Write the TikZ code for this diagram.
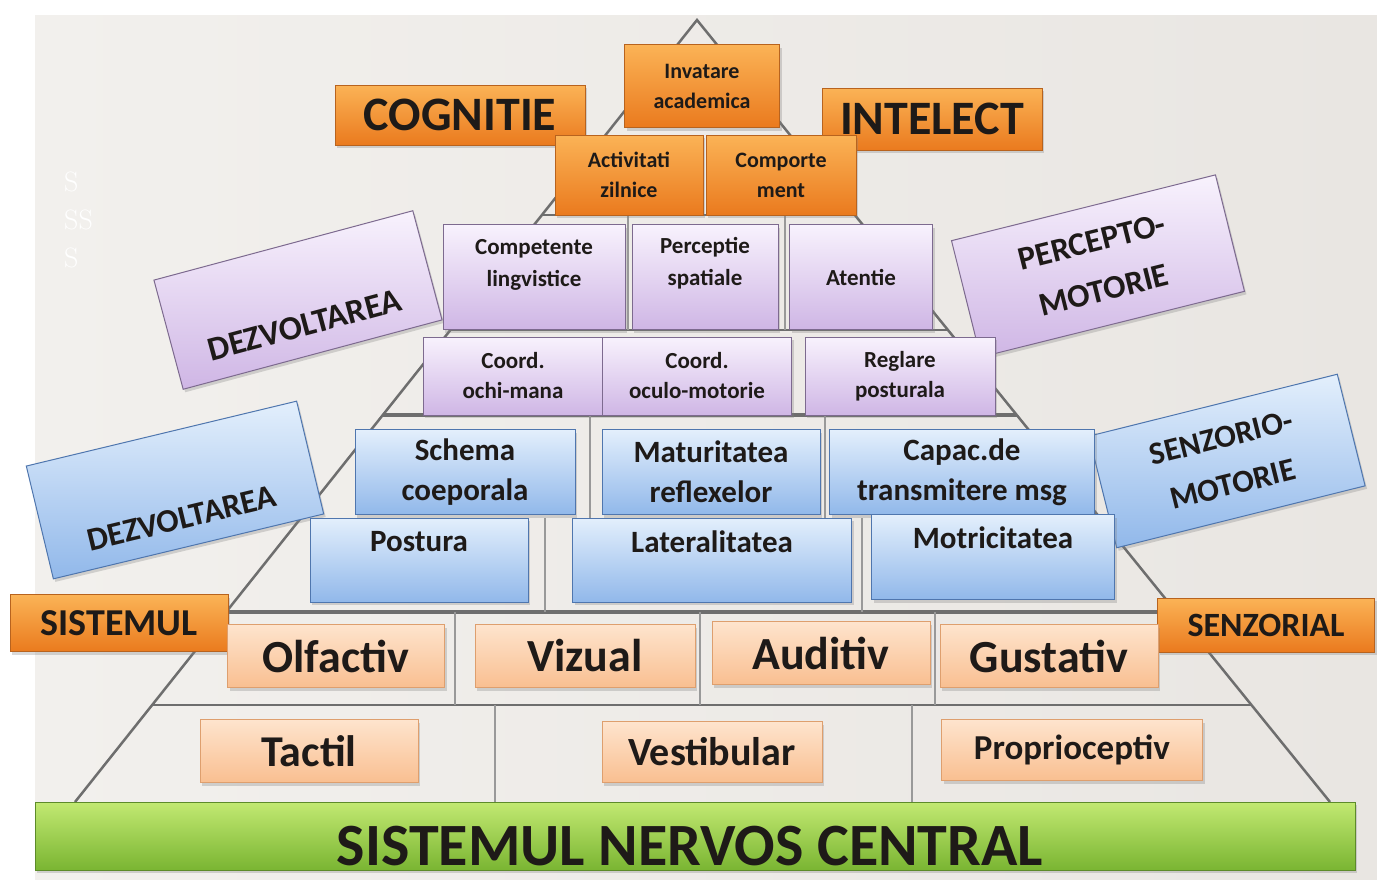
\documentclass[tikz,border=0pt]{standalone}
\usepackage{fontspec}
\newfontfamily\carlito{Carlito}
\usetikzlibrary{positioning,calc,shadows}

\definecolor{paneltop}{HTML}{F2F0ED}
\definecolor{panelbot}{HTML}{E9E6E2}
\definecolor{orangetop}{HTML}{FBB356}
\definecolor{orangebot}{HTML}{EA7A1E}
\definecolor{orangeedge}{HTML}{B8631E}
\definecolor{lilactop}{HTML}{F8F2FD}
\definecolor{lilacbot}{HTML}{CFB6E5}
\definecolor{lilacedge}{HTML}{7D6A8F}
\definecolor{bluetop}{HTML}{E3EFFC}
\definecolor{bluebot}{HTML}{91B8EA}
\definecolor{blueedge}{HTML}{4F76AE}
\definecolor{peachtop}{HTML}{FEE4CD}
\definecolor{peachbot}{HTML}{F9BF91}
\definecolor{peachedge}{HTML}{DE9F6E}
\definecolor{greentop}{HTML}{C2E972}
\definecolor{greenbot}{HTML}{7AB532}
\definecolor{greenedge}{HTML}{5D8B2A}
\definecolor{ink}{HTML}{1E1A18}
\definecolor{pyrline}{HTML}{6E6E6E}

\begin{document}
\begin{tikzpicture}[x=1pt, y=-1pt,
    wh/.style 2 args={minimum width=#1, minimum height=#2},
    txt/.style 2 args={font=\carlito\bfseries\fontsize{#1}{#2}\selectfont},
    box/.style={draw, line width=1pt, inner sep=2pt, align=center, text=ink,
        drop shadow={opacity=0.3, shadow xshift=2pt, shadow yshift=-3pt}},
    orangebox/.style={box, draw=orangeedge, top color=orangetop, bottom color=orangebot},
    lilacbox/.style={box, draw=lilacedge, top color=lilactop, bottom color=lilacbot},
    bluebox/.style={box, draw=blueedge, top color=bluetop, bottom color=bluebot},
    peachbox/.style={box, draw=peachedge, top color=peachtop, bottom color=peachbot},
    greenbox/.style={box, draw=greenedge, top color=greentop, bottom color=greenbot},
    label text/.style={inner sep=1pt, align=center, text=ink},
    tierline/.style={draw=pyrline, line width=#1},
    divider/.style={draw=pyrline!70, line width=2pt}
]
    \useasboundingbox (0,0) rectangle (1377,879);

    % background panel
    \shade[left color=paneltop, right color=panelbot] (35,15) rectangle (1377,879);
    \node[text=white, font=\fontsize{28}{38}\selectfont, align=left, anchor=north west,
        inner sep=0pt] (marks) at (64,172) {S\\SS\\S};

    % pyramid
    \coordinate (apex) at (697,20);
    \coordinate (baseL) at (75,802);
    \coordinate (baseR) at (1330,802);
    \draw[tierline=2.5pt] (baseL) -- (apex) -- (baseR);
    \foreach \t/\w in {0.249/2pt, 0.396/2pt, 0.505/4pt, 0.757/4pt, 0.876/2.5pt}
        \draw[tierline=\w] ($(apex)!\t!(baseL)$) -- ($(apex)!\t!(baseR)$);
    \foreach \x/\ya/\yb in {455/612/705, 700/612/705, 935/612/705, 495/705/802, 912/705/802,
            590/415/518, 825/415/518, 545/518/612, 862/518/612, 628/215/330, 785/215/330}
        \draw[divider] (\x,\ya) -- (\x,\yb);

    % tilted labels
    \node[lilacbox, wh={268}{113}, rotate=15] (dezpurple) at (298,300) {};
    \node[label text, txt={34}{40}, rotate=15] (dezpurpletext)
        at ($(dezpurple.center)!0.45!(dezpurple.south)$) {DEZVOLTAREA};
    \node[lilacbox, wh={272}{120}, rotate=14, txt={33}{50}] (percepto) at (1098,266)
        {PERCEPTO-\\MOTORIE};
    \node[bluebox, wh={278}{116}, rotate=13.5] (dezblue) at (175,490) {};
    \node[label text, txt={33}{40}, rotate=13.5] (dezbluetext)
        at ($(dezblue.center)!0.5!(dezblue.south)$) {DEZVOLTAREA};
    \node[bluebox, wh={256}{115}, rotate=14, txt={32}{48}] (senzorio) at (1227,461)
        {SENZORIO-\\MOTORIE};

    % top tier
    \node[orangebox, wh={155}{83}, txt={22}{30}] (invatare) at (702,86) {Invatare\\academica};
    \node[orangebox, wh={250}{60}, txt={48}{50}] (cognitie) at (460,115) {COGNITIE};
    \node[orangebox, wh={220}{62}, txt={48}{50}] (intelect) at (932,119) {INTELECT};
    \node[orangebox, wh={148}{80}, txt={22}{30}] (activitati) at (629,175) {Activitati\\zilnice};
    \node[orangebox, wh={150}{80}, txt={22}{30}, right=2pt of activitati] (comportament)
        {Comporte\\ment};

    % perceptual-motor tier
    \node[lilacbox, wh={182}{105}] (competente) at (534,277) {};
    \node[label text, txt={23}{32}, below=14pt of competente.north] (competentetext)
        {Competente\\lingvistice};
    \node[lilacbox, wh={146}{105}] (perceptie) at (705,277) {};
    \node[label text, txt={23}{32}, below=12pt of perceptie.north] (perceptietext)
        {Perceptie\\spatiale};
    \node[lilacbox, wh={143}{105}, txt={23}{32}] (atentie) at (861,277) {Atentie};
    \node[lilacbox, wh={180}{78}, txt={23}{30}] (ochimana) at (513,376) {Coord.\\ochi-mana};
    \node[lilacbox, wh={189}{78}, txt={23}{30}] (oculomotorie) at (697,376) {Coord.\\oculo-motorie};
    \node[lilacbox, wh={190}{78}, txt={23}{30}] (reglare) at (900,376) {Reglare\\posturala};

    % sensory-motor tier
    \node[bluebox, wh={220}{85}, txt={31}{40}] (schema) at (465,472) {Schema\\coeporala};
    \node[bluebox, wh={218}{85}, txt={31}{40}] (maturitatea) at (711,472) {Maturitatea\\reflexelor};
    \node[bluebox, wh={265}{85}, txt={31}{40}] (capacitate) at (962,472) {Capac.de\\transmitere msg};
    \node[bluebox, wh={218}{84}] (postura) at (419,560) {};
    \node[label text, txt={31}{40}, below=13pt of postura.north] (posturatext) {Postura};
    \node[bluebox, wh={279}{84}] (lateralitatea) at (712,560) {};
    \node[label text, txt={31}{40}, below=12pt of lateralitatea.north] (lateralitateatext)
        {Lateralitatea};
    \node[bluebox, wh={243}{85}] (motricitatea) at (993,557) {};
    \node[label text, txt={31}{40}, below=12pt of motricitatea.north] (motricitateatext)
        {Motricitatea};

    % sensory tier
    \node[orangebox, wh={218}{57}, txt={38}{40}] (sistemul) at (119,623) {SISTEMUL};
    \node[orangebox, wh={217}{54}, txt={34}{36}] (senzorial) at (1266,625) {SENZORIAL};
    \node[peachbox, wh={217}{63}, txt={46}{48}] (olfactiv) at (336,656) {Olfactiv};
    \node[peachbox, wh={220}{63}, txt={46}{48}] (vizual) at (585,656) {Vizual};
    \node[peachbox, wh={218}{63}, txt={46}{48}] (auditiv) at (821,653) {Auditiv};
    \node[peachbox, wh={218}{63}, txt={46}{48}] (gustativ) at (1049,656) {Gustativ};
    \node[peachbox, wh={218}{63}, txt={44}{46}] (tactil) at (309,751) {Tactil};
    \node[peachbox, wh={220}{61}, txt={40}{42}] (vestibular) at (712,752) {Vestibular};
    \node[peachbox, wh={261}{61}, txt={35}{38}] (proprioceptiv) at (1072,750) {Proprioceptiv};

    % base
    \node[greenbox, wh={1320}{68}] (snc) at (695,836) {};
    \node[label text, txt={60}{62}] (snctext) at (690,846) {SISTEMUL NERVOS CENTRAL};
\end{tikzpicture}
\end{document}
